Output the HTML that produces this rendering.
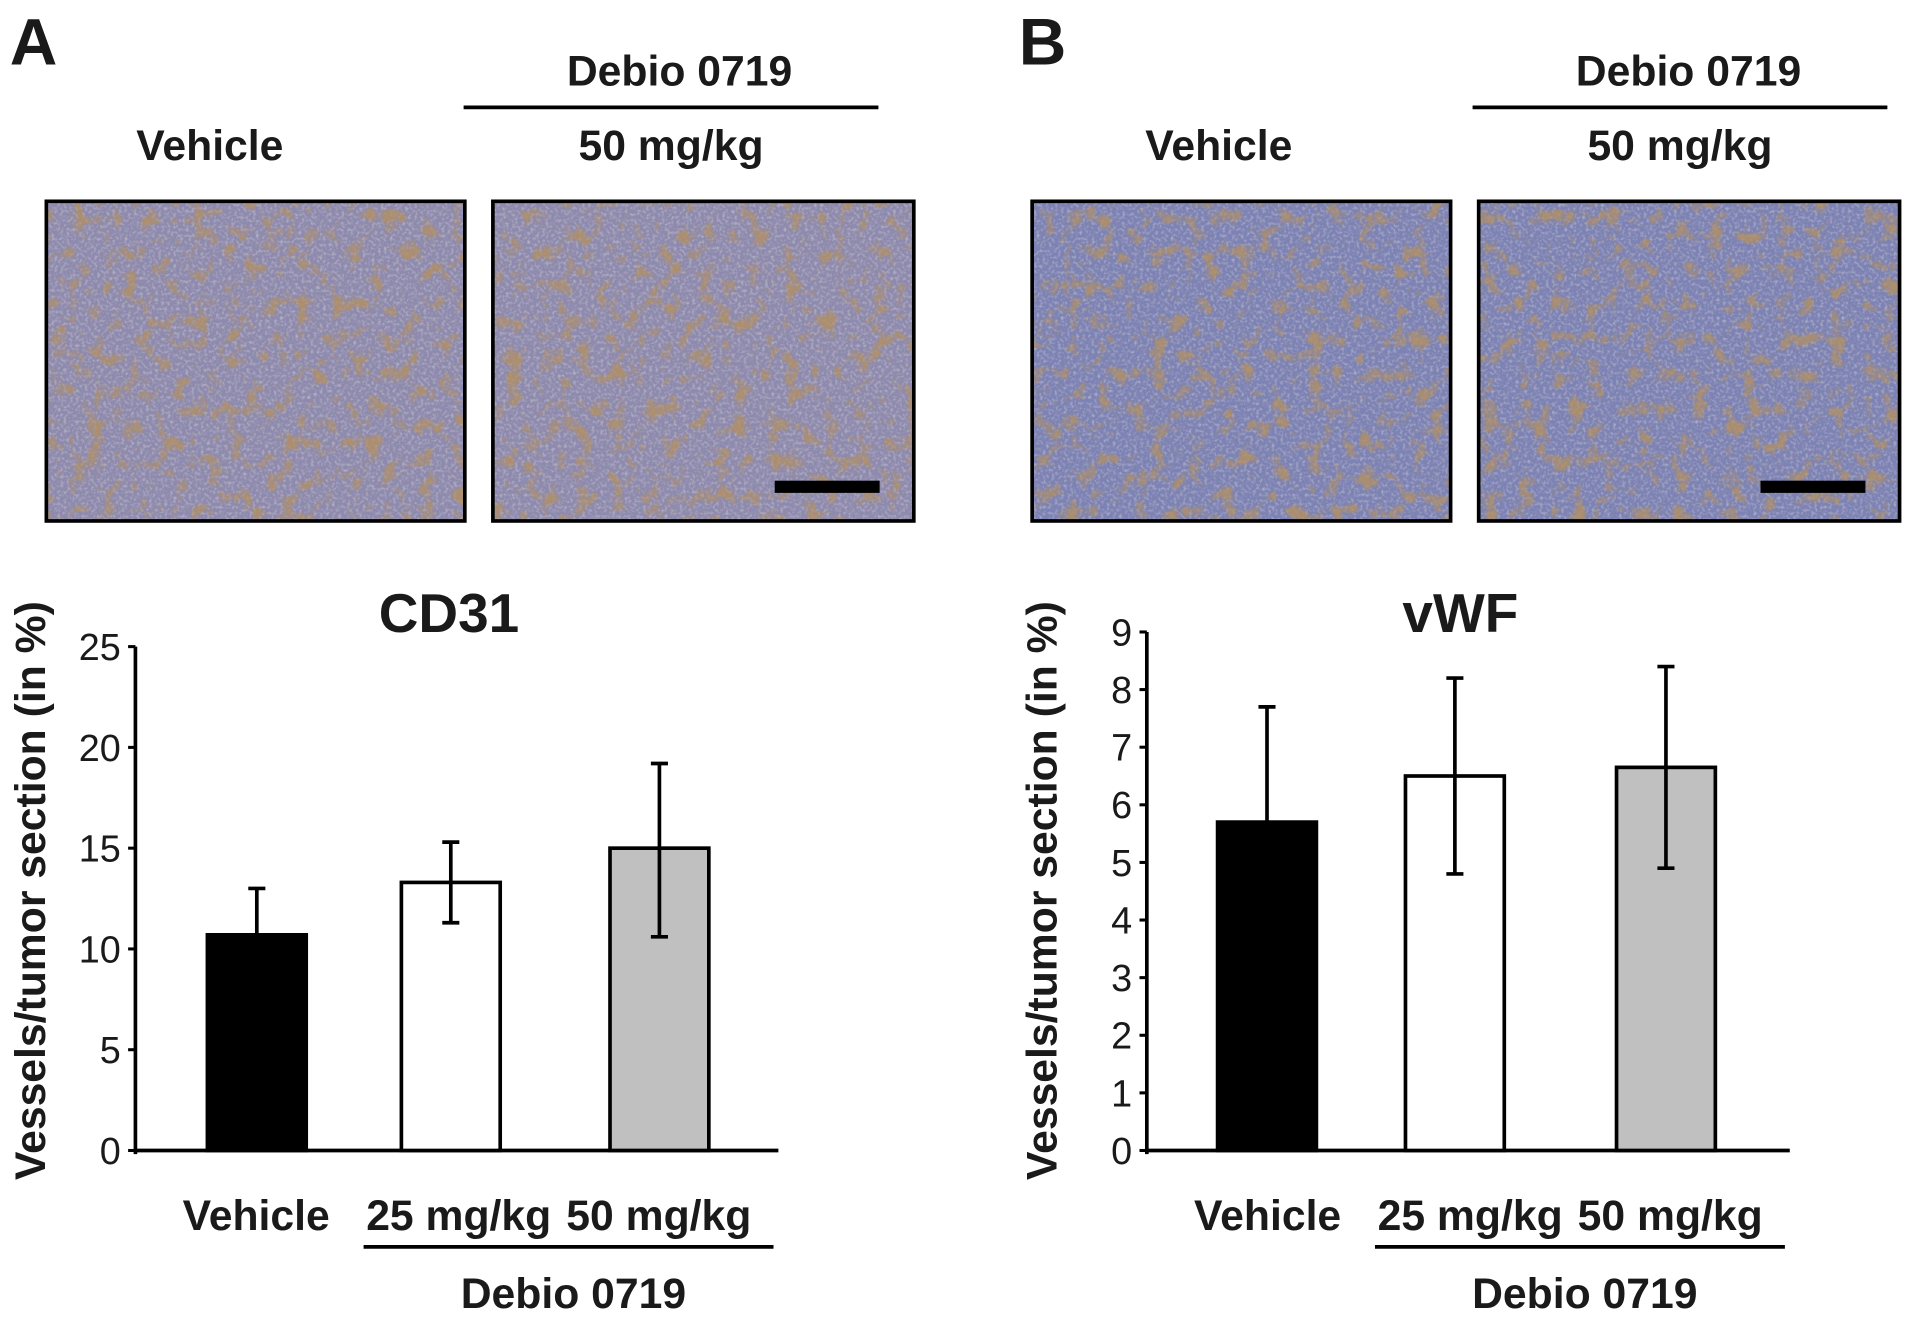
<!DOCTYPE html>
<html><head><meta charset="utf-8"><style>
html,body{margin:0;padding:0;background:#fff;}
svg{display:block;}
text{font-family:"Liberation Sans",Arial,sans-serif;fill:#1a1a1a;}
.b{font-weight:bold;}
</style></head><body>
<svg id="fig" width="1913" height="1323" viewBox="0 0 1568 1084.4">
<defs>
<filter id="tex" x="0" y="0" width="100%" height="100%">
<feTurbulence type="fractalNoise" baseFrequency="0.4" numOctaves="2" seed="3" result="n"/>
<feColorMatrix in="n" type="matrix" values="0 0 0 0 0.85  0 0 0 0 0.8  0 0 0 0 0.75  0 0 0 -2 1.1" result="c"/>
<feComposite in="c" in2="SourceGraphic" operator="in"/>
</filter>
<filter id="tex2" x="0" y="0" width="100%" height="100%">
<feTurbulence type="fractalNoise" baseFrequency="0.07" numOctaves="3" seed="7" result="n"/>
<feColorMatrix in="n" type="matrix" values="0 0 0 0 0.45  0 0 0 0 0.28  0 0 0 0 0.12  0 0 0 -4 1.9" result="c"/>
<feComposite in="c" in2="SourceGraphic" operator="in"/>
</filter>
</defs>
<g id="root"></g>
</svg>
<script>
// ---- data ----
const categories = ["Vehicle","25 mg/kg","50 mg/kg"];
const cd31Values = [10.7, 13.3, 15.0];
const cd31ErrLow = [10.7, 11.3, 10.6];
const cd31ErrHigh = [13.0, 15.3, 19.2];
const cd31Ticks = [0,5,10,15,20,25];
const vwfValues = [5.7, 6.5, 6.65];
const vwfErrLow = [5.7, 4.8, 4.9];
const vwfErrHigh = [7.7, 8.2, 8.4];
const vwfTicks = [0,1,2,3,4,5,6,7,8,9];

const NS="http://www.w3.org/2000/svg";
const root=document.getElementById('root');
function mk(tag,attrs,parent,txt){const e=document.createElementNS(NS,tag);for(const k in attrs)e.setAttribute(k,attrs[k]);if(txt!==undefined)e.textContent=txt;(parent||root).appendChild(e);return e;}

function panel(hOff,iOff,off,letter,imgColor,title,values,lo,hi,ticks,ymax,yTop,xEnd,barX,panelName){
  const g=mk('g',{});
  
  
  let t=mk('text',{x:hOff+8,y:53,'font-size':54,class:'b'},g,letter);
  
  t=mk('text',{x:hOff+557,y:70,'font-size':35,class:'b','text-anchor':'middle'},g,'Debio 0719');
  
  let l=mk('line',{x1:hOff+380,x2:hOff+720,y1:88,y2:88,stroke:'#000','stroke-width':3},g);
  
  t=mk('text',{x:hOff+172,y:131,'font-size':35,class:'b','text-anchor':'middle'},g,'Vehicle');
  
  t=mk('text',{x:hOff+550,y:131,'font-size':35,class:'b','text-anchor':'middle'},g,'50 mg/kg');
  
  [[iOff+38,343],[iOff+404,345]].forEach((p,i)=>{
    const r=mk('rect',{x:p[0],y:165,width:p[1],height:262,fill:imgColor},g);
    
    
    const n=mk('rect',{x:p[0],y:165,width:p[1],height:262,fill:'#fff',filter:'url(#tex)',opacity:0.5},g);
    
    const n2=mk('rect',{x:p[0],y:165,width:p[1],height:262,fill:'#fff',filter:'url(#tex2)',opacity:0.8},g);
    
    const b=mk('rect',{x:p[0],y:165,width:p[1],height:262,fill:'none',stroke:'#000','stroke-width':3},g);
    
  });
  const sb=mk('rect',{x:iOff+635,y:394,width:86,height:10,fill:'#000'},g);
  

  // chart
  const ax=off+111, y0=943;
  const Y=v=>y0-(v/ymax)*(y0-yTop);
  t=mk('text',{x:off+368,y:518,'font-size':45,class:'b','text-anchor':'middle'},g,title);
  
  l=mk('line',{x1:ax,x2:ax,y1:yTop,y2:y0+3,stroke:'#000','stroke-width':3},g);
  
  l=mk('line',{x1:ax,x2:xEnd,y1:y0,y2:y0,stroke:'#000','stroke-width':3},g);
  
  ticks.forEach(v=>{
    const tk=mk('line',{x1:ax-6,x2:ax,y1:Y(v),y2:Y(v),stroke:'#000','stroke-width':2.5},g);
    
    const tl=mk('text',{x:ax-12,y:Y(v)+11,'font-size':31,'text-anchor':'end'},g,String(v));
    
  });
  t=mk('text',{x:0,y:0,'font-size':35,class:'b','text-anchor':'middle',transform:`translate(${off+37},${730}) rotate(-90)`},g,'Vessels/tumor section (in %)');
  
  const fills=['#000','#fff','#c0c0c0'];
  values.forEach((v,i)=>{
    const x=off+barX[i], w=81;
    const r=mk('rect',{x:x,y:Y(v),width:w,height:y0-Y(v),fill:fills[i],stroke:'#000','stroke-width':3},g);
    
    const cx=x+w/2;
    const e=mk('line',{x1:cx,x2:cx,y1:Y(hi[i]),y2:Y(lo[i]),stroke:'#000','stroke-width':3},g);
    
    [hi[i],lo[i]].forEach(vv=>{
      if(vv===v) return;
      const c=mk('line',{x1:cx-7,x2:cx+7,y1:Y(vv),y2:Y(vv),stroke:'#000','stroke-width':3},g);
      
    });
  });
  const lx=[210,376,540];
  categories.forEach((c,i)=>{
    const tl=mk('text',{x:off+lx[i],y:1008,'font-size':35,class:'b','text-anchor':'middle'},g,c);
    
  });
  l=mk('line',{x1:off+298,x2:off+634,y1:1022,y2:1022,stroke:'#000','stroke-width':3},g);
  
  t=mk('text',{x:off+470,y:1072,'font-size':35,class:'b','text-anchor':'middle'},g,'Debio 0719');
  
}
panel(0,0,0,'A','#8d8aae','CD31',cd31Values,cd31ErrLow,cd31ErrHigh,cd31Ticks,25,530,638,[170,329,500],'panel-a');
panel(827,808,829,'B','#7c82b3','vWF',vwfValues,vwfErrLow,vwfErrHigh,vwfTicks,9,518,1467,[169,323,496],'panel-b');
</script>
</body></html>
